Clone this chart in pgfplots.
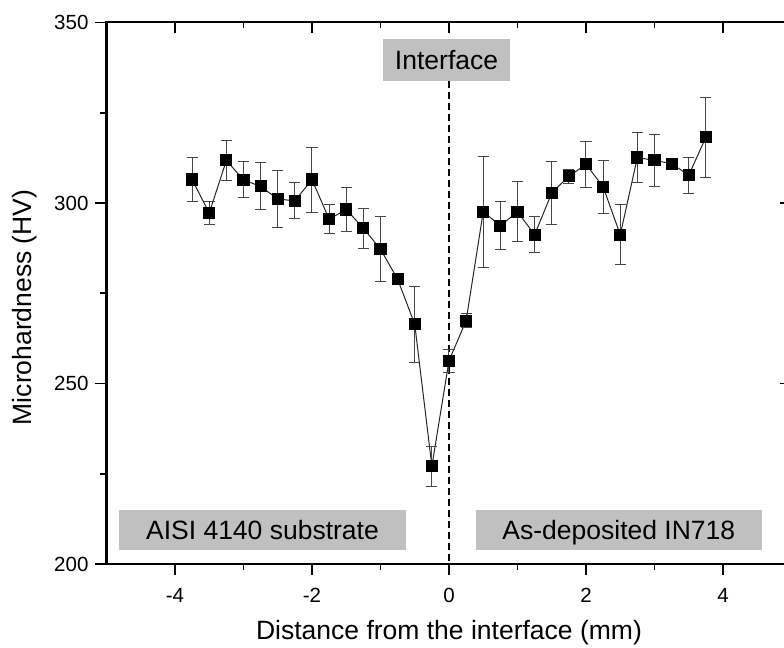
\documentclass[border=0pt]{standalone}
\usepackage{fontspec}
\setmainfont{Liberation Sans}
\usepackage{pgfplots}
\pgfplotsset{compat=1.18}
\definecolor{boxgray}{RGB}{192,192,192}
\definecolor{errgray}{RGB}{70,70,70}
\pgfplotstableread{
x y e
-3.75 306.5 6
-3.5 297.2 3.1
-3.25 311.8 5.5
-3.0 306.4 5
-2.75 304.6 6.5
-2.5 301.1 8
-2.25 300.6 5
-2.0 306.5 9
-1.75 295.5 4
-1.5 298.2 6.2
-1.25 293.0 5.6
-1.0 287.2 9
-0.75 278.9 0.8
-0.5 266.4 10.6
-0.25 227.1 5.5
0 256.3 3.2
0.25 267.4 2
0.5 297.6 15.4
0.75 293.7 6.6
1.0 297.6 8.4
1.25 291.2 5
1.5 302.8 8.8
1.75 307.4 2
2.0 310.7 6.3
2.25 304.5 7.3
2.5 291.2 8.3
2.75 312.6 6.8
3.0 311.8 7.2
3.25 310.9 1.5
3.5 307.7 5
3.75 318.2 11
}\hardness
\begin{document}
\begin{tikzpicture}
\pgfplotsset{
  commonax/.style={
    at={(53.25pt,42pt)}, anchor=south west, scale only axis,
    width=342.5pt, height=270.75pt,
    xmin=-5, xmax=5, ymin=200, ymax=350,
    xtick={-4,-2,0,2,4}, ytick={200,250,300,350},
    minor x tick num=1, minor y tick num=1,
    major tick length=5.5pt, minor tick length=3pt,
    axis line style={line width=1pt},
    every tick/.style={black, line width=0.9pt},
  }
}
\begin{axis}[commonax, xtick pos=right, ytick pos=right, tick align=inside,
  xticklabels={}, yticklabels={}]
\end{axis}
\begin{axis}[commonax, xtick pos=left, ytick pos=left, tick align=outside, clip=false,
  /pgf/number format/assume math mode=true,
  ticklabel style={font=\fontsize{10.25}{12}\selectfont},
  xticklabel style={yshift=-3pt},
  xlabel={Distance from the interface (mm)},
  ylabel={Microhardness (HV)},
  label style={font=\fontsize{13.25}{15}\selectfont},
  xlabel style={at={(axis description cs:0.5,-0.1274)}, anchor=center},
  ylabel style={at={(axis description cs:-0.119,0.474)}, anchor=center},
]
\fill[boxgray] (axis cs:-0.963,333.8) rectangle (axis cs:0.89,345.35);
\node[anchor=base, font=\fontsize{13.25}{15}\selectfont, inner sep=0pt] at (axis cs:-0.036,337.0) {Interface};
\draw[black, line width=0.75pt, dash pattern=on 3.5pt off 2pt] (axis cs:0,333.8) -- (axis cs:0,200);
\fill[boxgray] (axis cs:-4.818,203.9) rectangle (axis cs:-0.628,215);
\node[anchor=base, font=\fontsize{13.25}{15}\selectfont, inner sep=0pt] at (axis cs:-2.723,206.8) {AISI 4140 substrate};
\fill[boxgray] (axis cs:0.394,203.9) rectangle (axis cs:4.569,215);
\node[anchor=base, font=\fontsize{13.25}{15}\selectfont, inner sep=0pt] at (axis cs:2.48,206.8) {As-deposited IN718};
\addplot[black!85, line width=0.5pt, mark=square*, mark size=2.8pt,
  mark options={solid, fill=black, draw=black},
  error bars/.cd, y dir=both, y explicit,
  error bar style={errgray, line width=0.5pt},
  error mark options={rotate=90, mark size=2.8pt, line width=0.5pt, errgray}]
  table[x=x, y=y, y error=e] {\hardness};
\end{axis}
\pgfresetboundingbox
\path[use as bounding box] (0,0) rectangle (392pt,324pt);
\end{tikzpicture}
\end{document}
